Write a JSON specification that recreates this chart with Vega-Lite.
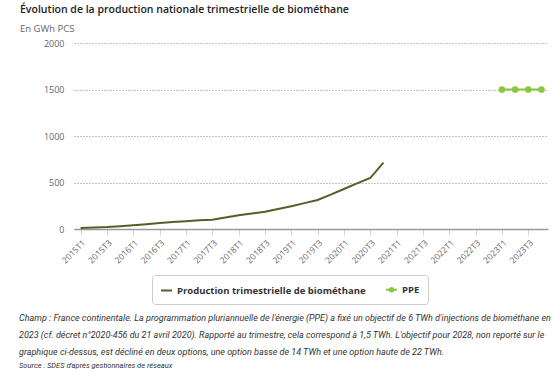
{
  "$schema": "https://vega.github.io/schema/vega-lite/v6.json",
  "background": "white",
  "padding": {"left": 19, "top": 5, "right": 5, "bottom": 5},
  "title": {
    "text": [
      "Champ : France continentale. La programmation pluriannuelle de l'énergie (PPE) a fixé un objectif de 6 TWh d'injections de biométhane en",
      "2023 (cf. décret n°2020-456 du 21 avril 2020). Rapporté au trimestre, cela correspond à 1,5 TWh. L'objectif pour 2028, non reporté sur le",
      "graphique ci-dessus, est décliné en deux options, une option basse de 14 TWh et une option haute de 22 TWh."
    ],
    "subtitle": "Source : SDES d'après gestionnaires de réseaux",
    "orient": "bottom",
    "anchor": "start",
    "frame": "bounds",
    "dx": -1,
    "font": "Roboto",
    "fontSize": 9,
    "fontStyle": "italic",
    "fontWeight": "normal",
    "color": "#333333",
    "lineHeight": 17,
    "subtitleFont": "Roboto",
    "subtitleFontSize": 7.5,
    "subtitleFontStyle": "italic",
    "subtitleColor": "#333333",
    "subtitlePadding": 5,
    "offset": 9
  },
  "config": {
    "view": {"stroke": null},
    "concat": {"spacing": 0}
  },
  "vconcat": [
    {
      "width": 474,
      "height": 186,
      "title": {
        "text": "Évolution de la production nationale trimestrielle de biométhane",
        "subtitle": "En GWh PCS",
        "anchor": "start",
        "frame": "group",
        "dx": -54,
        "font": "Open Sans",
        "fontSize": 10.5,
        "fontWeight": 600,
        "color": "#222222",
        "subtitleFont": "Open Sans",
        "subtitleFontSize": 9.5,
        "subtitleColor": "#666666",
        "subtitlePadding": 8,
        "offset": 6
      },
      "data": {
        "values": [
          {"trimestre": "2015T1", "valeur": 11, "serie": "Production trimestrielle de biométhane"},
          {"trimestre": "2015T2", "valeur": 16, "serie": "Production trimestrielle de biométhane"},
          {"trimestre": "2015T3", "valeur": 21, "serie": "Production trimestrielle de biométhane"},
          {"trimestre": "2015T4", "valeur": 30, "serie": "Production trimestrielle de biométhane"},
          {"trimestre": "2016T1", "valeur": 40, "serie": "Production trimestrielle de biométhane"},
          {"trimestre": "2016T2", "valeur": 52, "serie": "Production trimestrielle de biométhane"},
          {"trimestre": "2016T3", "valeur": 65, "serie": "Production trimestrielle de biométhane"},
          {"trimestre": "2016T4", "valeur": 74, "serie": "Production trimestrielle de biométhane"},
          {"trimestre": "2017T1", "valeur": 83, "serie": "Production trimestrielle de biométhane"},
          {"trimestre": "2017T2", "valeur": 93, "serie": "Production trimestrielle de biométhane"},
          {"trimestre": "2017T3", "valeur": 100, "serie": "Production trimestrielle de biométhane"},
          {"trimestre": "2017T4", "valeur": 123, "serie": "Production trimestrielle de biométhane"},
          {"trimestre": "2018T1", "valeur": 147, "serie": "Production trimestrielle de biométhane"},
          {"trimestre": "2018T2", "valeur": 167, "serie": "Production trimestrielle de biométhane"},
          {"trimestre": "2018T3", "valeur": 186, "serie": "Production trimestrielle de biométhane"},
          {"trimestre": "2018T4", "valeur": 215, "serie": "Production trimestrielle de biométhane"},
          {"trimestre": "2019T1", "valeur": 245, "serie": "Production trimestrielle de biométhane"},
          {"trimestre": "2019T2", "valeur": 278, "serie": "Production trimestrielle de biométhane"},
          {"trimestre": "2019T3", "valeur": 312, "serie": "Production trimestrielle de biométhane"},
          {"trimestre": "2019T4", "valeur": 370, "serie": "Production trimestrielle de biométhane"},
          {"trimestre": "2020T1", "valeur": 430, "serie": "Production trimestrielle de biométhane"},
          {"trimestre": "2020T2", "valeur": 490, "serie": "Production trimestrielle de biométhane"},
          {"trimestre": "2020T3", "valeur": 548, "serie": "Production trimestrielle de biométhane"},
          {"trimestre": "2020T4", "valeur": 713, "serie": "Production trimestrielle de biométhane"},
          {"trimestre": "2023T1", "valeur": 1500, "serie": "PPE"},
          {"trimestre": "2023T2", "valeur": 1500, "serie": "PPE"},
          {"trimestre": "2023T3", "valeur": 1500, "serie": "PPE"},
          {"trimestre": "2023T4", "valeur": 1500, "serie": "PPE"}
        ]
      },
      "encoding": {
        "x": {
          "field": "trimestre",
          "type": "ordinal",
          "sort": null,
          "scale": {
            "type": "point",
            "padding": 0.5,
            "domain": ["2015T1","2015T2","2015T3","2015T4","2016T1","2016T2","2016T3","2016T4","2017T1","2017T2","2017T3","2017T4","2018T1","2018T2","2018T3","2018T4","2019T1","2019T2","2019T3","2019T4","2020T1","2020T2","2020T3","2020T4","2021T1","2021T2","2021T3","2021T4","2022T1","2022T2","2022T3","2022T4","2023T1","2023T2","2023T3","2023T4"]
          },
          "axis": {
            "title": null,
            "values": ["2015T1","2015T3","2016T1","2016T3","2017T1","2017T3","2018T1","2018T3","2019T1","2019T3","2020T1","2020T3","2021T1","2021T3","2022T1","2022T3","2023T1","2023T3"],
            "labelAngle": -45,
            "labelFont": "Open Sans",
            "labelFontSize": 8.5,
            "labelColor": "#666666",
            "labelPadding": 3,
            "domainColor": "#999999",
            "domainWidth": 1.5,
            "tickColor": "#ccd6eb",
            "tickSize": 6,
            "grid": false
          }
        },
        "y": {
          "field": "valeur",
          "type": "quantitative",
          "scale": {"domain": [0, 2000]},
          "axis": {
            "title": null,
            "values": [0, 500, 1000, 1500, 2000],
            "format": "d",
            "labelFont": "Open Sans",
            "labelFontSize": 9,
            "labelColor": "#666666",
            "labelPadding": 10,
            "ticks": false,
            "domain": false,
            "gridColor": "#888888",
            "gridDash": [1, 2],
            "gridWidth": 1
          }
        }
      },
      "layer": [
        {
          "mark": {"type": "line", "strokeWidth": 2},
          "encoding": {
            "color": {
              "field": "serie",
              "type": "nominal",
              "scale": {
                "domain": ["Production trimestrielle de biométhane", "PPE"],
                "range": ["#4e6228", "#8cc63f"]
              },
              "legend": {
                "title": null,
                "orient": "none",
                "direction": "horizontal",
                "legendX": 78,
                "legendY": 232,
                "strokeColor": "#cccccc",
                "fillColor": "white",
                "cornerRadius": 3,
                "padding": 8,
                "columnPadding": 16,
                "labelOffset": 4,
                "labelFont": "Open Sans",
                "labelFontSize": 9.5,
                "labelFontWeight": "bold",
                "labelColor": "#333333",
                "symbolSize": 121,
                "symbolStrokeWidth": 2,
                "labelLimit": 300,
                "encode": {
                  "symbols": {
                    "update": {
                      "shape": {"signal": "datum.value === 'PPE' ? 'M-1,0H1M0.32,0A0.32,0.32,0,1,1,-0.32,0A0.32,0.32,0,1,1,0.32,0Z' : 'stroke'"},
                      "fill": {"signal": "datum.value === 'PPE' ? '#8cc63f' : 'transparent'"}
                    }
                  }
                }
              }
            }
          }
        },
        {
          "transform": [{"filter": "datum.serie === 'PPE'"}],
          "mark": {"type": "point", "filled": true, "size": 45, "opacity": 1, "color": "#8cc63f"}
        }
      ]
    }
  ]
}
